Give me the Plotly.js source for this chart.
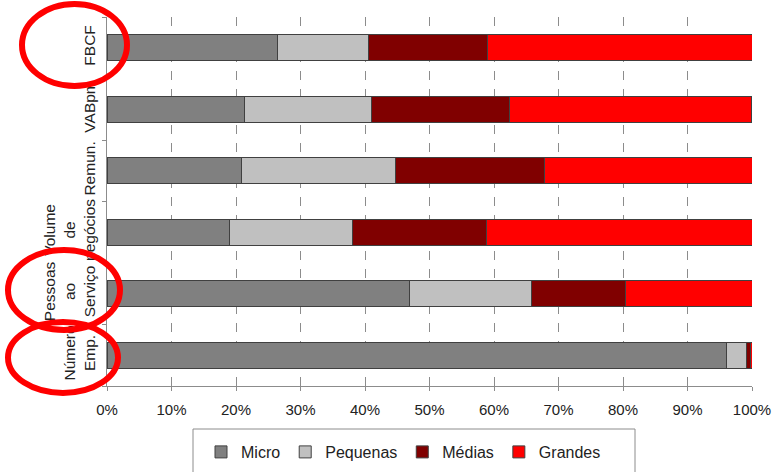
<!DOCTYPE html>
<html>
<head>
<meta charset="utf-8">
<script src="https://cdn.plot.ly/plotly-3.0.1.min.js"></script>
<style>html,body{margin:0;padding:0;background:#fff;}#chart{width:773px;height:472px;}</style>
</head>
<body>
<div id="chart"></div>
<script>
// Categories (bottom to top)
const categories = ["Número<br>Emp.", "Pessoas<br>ao<br>Serviço", "Volume<br>de<br>negócios", "Remun.", "VABpm", "FBCF"];
// Shares (%) by company size
const micro    = [96.1, 46.9, 19.0, 20.8, 21.3, 26.5];
const pequenas = [3.0, 18.9, 19.1, 24.0, 19.75, 14.1];
const medias   = [0.7, 14.6, 20.7, 23.1, 21.4, 18.4];
const grandes  = [0.2, 19.6, 41.2, 32.1, 37.5, 41.0];
const seriesNames = ["Micro", "Pequenas", "Médias", "Grandes"];
const seriesColors = ["#808080", "#C0C0C0", "#800000", "#FF0000"];
const seriesValues = [micro, pequenas, medias, grandes];
const xTicks = [0,10,20,30,40,50,60,70,80,90,100];
const gridTicks = [10,20,30,40,50,60,70,80,90];

const traces = seriesValues.map((vals, i) => ({
  type: "bar",
  orientation: "h",
  name: seriesNames[i],
  y: categories,
  x: vals,
  marker: {color: seriesColors[i], line: {color: "#404040", width: 1}},
  hoverinfo: "x+name"
}));

// plot area in px: x 107..752, y 17..386
const W = 773, H = 472;
const L = 107, R = 752, T = 17, B = 386;
const px = v => (v - L) / (R - L);
const py = v => (B - v) / (B - T);
function ellipse(x0, x1, y0, y1) {
  return {type: "circle", xref: "paper", yref: "paper", layer: "above",
    x0: px(x0), x1: px(x1), y0: py(y1), y1: py(y0),
    line: {color: "#FF0000", width: 6}, fillcolor: "rgba(0,0,0,0)"};
}

const FONT = 'Arial, "Liberation Sans", sans-serif';
const layout = {
  width: W, height: H,
  margin: {l: L, r: W - R, t: T, b: H - B},
  barmode: "stack",
  bargap: 0.58,
  paper_bgcolor: "#fff",
  plot_bgcolor: "#fff",
  font: {family: FONT, size: 15, color: "#222"},
  xaxis: {
    range: [0, 100], tickvals: xTicks, ticktext: xTicks.map(v => v + "%"),
    showgrid: false,
    minor: {tickvals: gridTicks, showgrid: true, gridcolor: "#8c8c8c", griddash: "dash", gridwidth: 1, ticks: ""},
    showline: true, linecolor: "#8c8c8c", linewidth: 1,
    ticks: "outside", ticklen: 4, tickcolor: "#8c8c8c", ticklabelstandoff: 6,
    zeroline: false, fixedrange: true, automargin: false,
    tickfont: {family: FONT, size: 15, color: "#222"}
  },
  yaxis: {
    type: "category",
    showline: true, linecolor: "#8c8c8c", linewidth: 1,
    ticks: "outside", ticklen: 4, tickcolor: "#8c8c8c", tickson: "boundaries",
    ticklabelstandoff: 5,
    tickangle: -90, showgrid: false, zeroline: false, fixedrange: true, automargin: false,
    tickfont: {family: FONT, size: 15.5, color: "#222"}
  },
  legend: {
    orientation: "h", xref: "container", yref: "container",
    x: 201 / W, xanchor: "left", y: (H - 435) / H, yanchor: "top",
    borderwidth: 0, bgcolor: "rgba(0,0,0,0)",
    font: {family: FONT, size: 16, color: "#222"}, traceorder: "normal",
    itemwidth: 30
  },
  shapes: [
    {type: "rect", xref: "paper", yref: "paper", layer: "below",
     x0: px(193), x1: px(635), y0: py(480), y1: py(429),
     line: {color: "#8c8c8c", width: 1}, fillcolor: "rgba(0,0,0,0)"},
    ellipse(22, 127, 4, 86),
    ellipse(8, 120, 250, 330),
    ellipse(8, 118, 322, 393)
  ]
};

Plotly.newPlot("chart", traces, layout, {displayModeBar: false, staticPlot: true});
</script>
</body>
</html>
